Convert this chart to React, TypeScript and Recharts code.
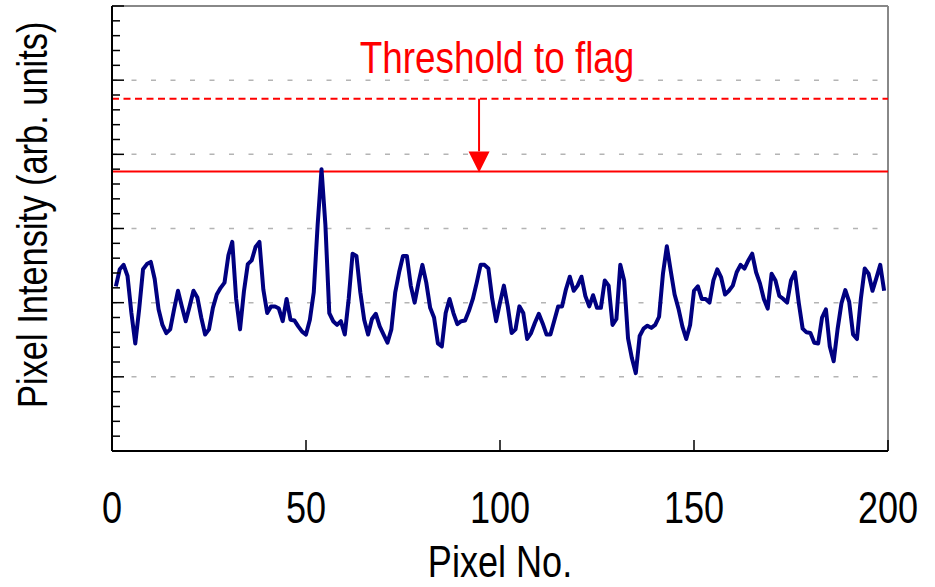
import React from 'react';
import { LineChart, Line, XAxis, YAxis, ReferenceLine } from 'recharts';

// intensity profile along the detector row, pixels 1..199
const intensity = [
  2.22, 2.45, 2.51, 2.36, 1.86, 1.45, 1.91, 2.45, 2.52, 2.55,
  2.32, 1.91, 1.7, 1.59, 1.64, 1.91, 2.16, 1.95, 1.75, 1.95,
  2.16, 2.07, 1.8, 1.57, 1.64, 1.93, 2.11, 2.2, 2.27, 2.64,
  2.82, 2.05, 1.64, 2.15, 2.52, 2.57, 2.75, 2.82, 2.18, 1.86,
  1.95, 1.95, 1.92, 1.75, 2.05, 1.77, 1.76, 1.68, 1.61, 1.57,
  1.77, 2.14, 3.05, 3.8, 3.05, 1.86, 1.75, 1.7, 1.75, 1.57,
  2.05, 2.66, 2.63, 2.14, 1.77, 1.57, 1.78, 1.85, 1.68, 1.57,
  1.46, 1.64, 2.14, 2.41, 2.63, 2.63, 2.23, 2.0, 2.27, 2.51,
  2.27, 1.93, 1.8, 1.45, 1.41, 1.86, 2.05, 1.86, 1.71, 1.75,
  1.76, 1.89, 2.05, 2.27, 2.51, 2.51, 2.46, 2.05, 1.75, 2.0,
  2.23, 1.95, 1.59, 1.64, 1.95, 1.86, 1.51, 1.59, 1.73, 1.85,
  1.72, 1.57, 1.57, 1.76, 1.95, 1.95, 2.18, 2.35, 2.16, 2.23,
  2.35, 2.09, 1.95, 2.1, 1.93, 1.93, 2.3, 2.23, 1.7, 1.78,
  2.51, 2.3, 1.52, 1.25, 1.05, 1.55, 1.65, 1.69, 1.66, 1.7,
  1.81, 2.39, 2.76, 2.43, 2.11, 1.92, 1.68, 1.51, 1.7, 2.16,
  2.22, 2.05, 2.05, 2.0, 2.3, 2.45, 2.34, 2.11, 2.16, 2.23,
  2.41, 2.51, 2.46, 2.57, 2.66, 2.41, 2.26, 2.05, 1.92, 2.39,
  2.3, 2.09, 2.05, 2.0, 2.3, 2.41, 2.0, 1.65, 1.6, 1.59,
  1.46, 1.45, 1.8, 1.91, 1.41, 1.21, 1.64, 1.99, 2.17, 2.01,
  1.57, 1.51, 2.05, 2.46, 2.39, 2.16, 2.33, 2.51, 2.16,
];
const pixelNo = intensity.map((_, i) => i + 1);

const xTicks = [0, 50, 100, 150, 200];
const yMajor = [0, 1, 2, 3, 4, 5, 6];
const yTicks = Array.from({ length: 31 }, (_, k) => k / 5);
const gridLevels = [1, 2, 3, 4, 5];

const thresholdLevel = 3.77;
const flagLevel = 4.75;
const arrowX = 94.6;
const thresholdText = 'Threshold to flag';

const data = pixelNo.map((x, i) => ({ x, y: intensity[i] }));

const FONT = "'Liberation Sans', Arial, sans-serif";
const NARROW = 0.82;

function XTick(props: any) {
  const { x, y, payload } = props;
  return (
    <g>
      <line x1={x} x2={x} y1={y} y2={y - 11} stroke="#000" strokeWidth={1.5} />
      <text
        transform={`translate(${x},${y + 72}) scale(${NARROW},1)`}
        textAnchor="middle"
        fontSize={44}
        fontFamily={FONT}
        fill="#000"
      >
        {payload.value}
      </text>
    </g>
  );
}

function YTick(props: any) {
  const { x, y, payload } = props;
  const v = payload.value;
  const major = yMajor.some((m) => Math.abs(m - v) < 1e-6);
  return <line x1={x} x2={x + (major ? 12 : 8)} y1={y} y2={y} stroke="#000" strokeWidth={1.5} />;
}

function Arrow(props: any) {
  const { x1, y1, y2 } = props;
  const head = 20;
  return (
    <g>
      <line x1={x1} x2={x1} y1={y1} y2={y2 - head} stroke="#ff0000" strokeWidth={2} />
      <polygon
        points={`${x1 - 10.5},${y2 - head} ${x1 + 10.5},${y2 - head} ${x1},${y2 + 1}`}
        fill="#ff0000"
      />
    </g>
  );
}

export default function App() {
  return (
    <div style={{ position: 'absolute', left: 0, top: 0, background: '#fff' }}>
      <LineChart
        width={935}
        height={587}
        data={data}
        margin={{ top: 6, right: 47, bottom: 0, left: 0 }}
        style={{ fontFamily: FONT }}
      >
        <XAxis
          type="number"
          dataKey="x"
          domain={[0, 200]}
          ticks={xTicks}
          interval={0}
          height={136}
          tickSize={0}
          tickMargin={0}
          tickLine={false}
          axisLine={{ stroke: '#000', strokeWidth: 2 }}
          tick={<XTick />}
          label={{
            value: 'Pixel No.',
            content: (p: any) => {
              const vb = p.viewBox;
              return (
                <text
                  transform={`translate(${vb.x + vb.width / 2},${vb.y + vb.height - 10}) scale(${NARROW},1)`}
                  textAnchor="middle"
                  fontSize={44}
                  fontFamily={FONT}
                  fill="#000"
                >
                  Pixel No.
                </text>
              );
            },
          }}
        />
        <YAxis
          type="number"
          domain={[0, 6]}
          ticks={yTicks}
          interval={0}
          width={112}
          tickSize={0}
          tickMargin={0}
          tickLine={false}
          axisLine={{ stroke: '#000', strokeWidth: 2 }}
          tick={<YTick />}
          label={{
            value: 'Pixel Intensity (arb. units)',
            content: (p: any) => {
              const vb = p.viewBox;
              return (
                <text
                  transform={`translate(47,${vb.y + vb.height - 43}) rotate(-90) scale(${NARROW},1)`}
                  textAnchor="start"
                  fontSize={42}
                  fontFamily={FONT}
                  fill="#000"
                >
                  Pixel Intensity (arb. units)
                </text>
              );
            },
          }}
        />

        {gridLevels.map((g) => (
          <ReferenceLine key={g} y={g} stroke="#b4b4b4" strokeWidth={1.5} strokeDasharray="5 14.5" />
        ))}
        <ReferenceLine y={6} stroke="#888" strokeWidth={2} />
        <ReferenceLine x={200} stroke="#888" strokeWidth={2} />

        <ReferenceLine y={thresholdLevel} stroke="#ff0000" strokeWidth={2} />
        <ReferenceLine
          y={flagLevel}
          stroke="#ff0000"
          strokeWidth={2}
          strokeDasharray="7 4.5"
          label={{
            value: thresholdText,
            content: (p: any) => {
              const vb = p.viewBox;
              return (
                <text
                  transform={`translate(${vb.x + vb.width / 2 - 3},${vb.y - 26}) scale(${NARROW},1)`}
                  textAnchor="middle"
                  fontSize={45}
                  fontFamily={FONT}
                  fill="#ff0000"
                >
                  {thresholdText}
                </text>
              );
            },
          }}
        />
        <ReferenceLine
          segment={[
            { x: arrowX, y: flagLevel },
            { x: arrowX, y: thresholdLevel },
          ]}
          stroke="#ff0000"
          shape={(p: any) => <Arrow {...p} />}
        />

        <Line
          type="linear"
          dataKey="y"
          stroke="#000080"
          strokeWidth={4}
          strokeLinejoin="round"
          dot={false}
          activeDot={false}
          isAnimationActive={false}
        />
      </LineChart>
    </div>
  );
}
